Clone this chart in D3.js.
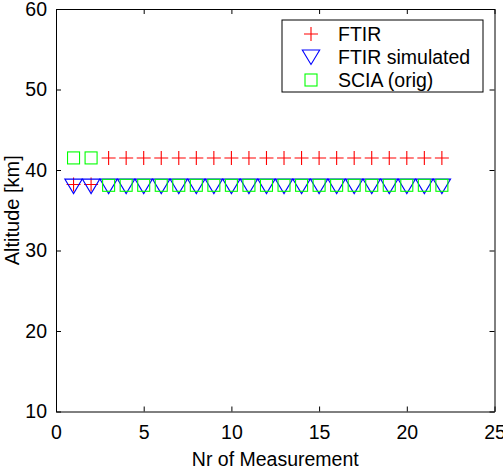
<!DOCTYPE html>
<html>
<head>
<meta charset="utf-8">
<script src="https://cdn.jsdelivr.net/npm/d3@7"></script>
<style>
  body { margin: 0; background: #fff; }
  svg text { font-family: "Liberation Sans", Arial, Helvetica, sans-serif; }
</style>
</head>
<body>
<svg id="chart" width="503" height="474"></svg>
<script>
// measurement numbers
const measurements = [1, 2, 3, 4, 5, 6, 7, 8, 9, 10, 11, 12, 13, 14, 15, 16, 17, 18, 19, 20, 21, 22];

// altitude values [km]
const ftir = [38.2, 38.2, 41.5, 41.5, 41.5, 41.5, 41.5, 41.5, 41.5, 41.5, 41.5,
  41.5, 41.5, 41.5, 41.5, 41.5, 41.5, 41.5, 41.5, 41.5, 41.5, 41.5];
const ftirSimulated = [38.0, 38.0, 38.0, 38.0, 38.0, 38.0, 38.0, 38.0, 38.0, 38.0, 38.0,
  38.0, 38.0, 38.0, 38.0, 38.0, 38.0, 38.0, 38.0, 38.0, 38.0, 38.0];
const sciaOrig = [41.5, 41.5, 38.1, 38.1, 38.1, 38.1, 38.1, 38.1, 38.1, 38.1, 38.1,
  38.1, 38.1, 38.1, 38.1, 38.1, 38.1, 38.1, 38.1, 38.1, 38.1, 38.1];

const xTicks = [0, 5, 10, 15, 20, 25];
const yTicks = [10, 20, 30, 40, 50, 60];

const seriesNames = ['FTIR', 'FTIR simulated', 'SCIA (orig)'];

let svg = d3.select('#chart');

let m_left = 56, m_right = 494.5, m_top = 9, m_bottom = 411.5;
let fontSize = 19.5;

let x = d3.scaleLinear().domain([0, 25]).range([m_left, m_right]);
let y = d3.scaleLinear().domain([10, 60]).range([m_bottom, m_top]);

// marker shapes (matlab style)
function drawMarker(g, kind) {
  if (kind === 'plus') {
    g.append('path')
      .attr('d', 'M-7,0H7M0,-7V7')
      .attr('stroke', '#ff0000')
      .attr('stroke-width', 1.1)
      .attr('fill', 'none');
  } else if (kind === 'tri') {
    g.append('path')
      .attr('d', 'M-8.7,-7L8.7,-7L0,7.5Z')
      .attr('stroke', '#0000ff')
      .attr('stroke-width', 1.1)
      .attr('fill', 'none');
  } else {
    g.append('rect')
      .attr('x', -6).attr('y', -6)
      .attr('width', 12).attr('height', 12)
      .attr('stroke', '#00ff00')
      .attr('stroke-width', 1.1)
      .attr('fill', 'none');
  }
}

let series = [
  { name: seriesNames[0], values: ftir, kind: 'plus' },
  { name: seriesNames[1], values: ftirSimulated, kind: 'tri' },
  { name: seriesNames[2], values: sciaOrig, kind: 'square' }
];

// axes box with inward ticks
function styleAxis(g) {
  g.selectAll('path').attr('stroke', '#000').attr('stroke-width', 1);
  g.selectAll('line').attr('stroke', '#000').attr('stroke-width', 1);
  g.selectAll('text')
    .attr('fill', '#000')
    .style('font-size', fontSize + 'px');
}

svg.append('g')
  .attr('transform', 'translate(0,' + m_bottom + ')')
  .call(d3.axisBottom(x).tickValues(xTicks).tickSizeInner(-5).tickSizeOuter(0).tickPadding(14))
  .call(styleAxis);

svg.append('g')
  .attr('transform', 'translate(0,' + m_top + ')')
  .call(d3.axisTop(x).tickValues(xTicks).tickSizeInner(-5).tickSizeOuter(0).tickFormat(''))
  .call(styleAxis);

svg.append('g')
  .attr('transform', 'translate(' + m_left + ',0)')
  .call(d3.axisLeft(y).tickValues(yTicks).tickSizeInner(-5).tickSizeOuter(0).tickPadding(9))
  .call(styleAxis);

svg.append('g')
  .attr('transform', 'translate(' + m_right + ',0)')
  .call(d3.axisRight(y).tickValues(yTicks).tickSizeInner(-5).tickSizeOuter(0).tickFormat(''))
  .call(styleAxis);

// data markers
series.forEach(function(s) {
  svg.append('g')
    .attr('class', 'series')
    .selectAll('g')
    .data(measurements)
    .enter()
    .append('g')
    .attr('transform', function(d, i) {
      return 'translate(' + x(d) + ',' + y(s.values[i]) + ')';
    })
    .each(function() {
      drawMarker(d3.select(this), s.kind);
    });
});

// legend
let legend = svg.append('g').attr('transform', 'translate(282,20)');
legend.append('rect')
  .attr('width', 201).attr('height', 72)
  .attr('fill', '#fff')
  .attr('stroke', '#000')
  .attr('stroke-width', 1);

series.forEach(function(s, i) {
  let row = legend.append('g').attr('transform', 'translate(29,' + (14 + i * 23) + ')');
  drawMarker(row, s.kind);
  row.append('text')
    .attr('x', 27)
    .attr('y', 0)
    .attr('dy', '0.35em')
    .style('font-size', fontSize + 'px')
    .text(s.name);
});

// axis labels
svg.append('text')
  .attr('x', (m_left + m_right) / 2)
  .attr('y', 466)
  .attr('text-anchor', 'middle')
  .style('font-size', fontSize + 'px')
  .text('Nr of Measurement');

svg.append('text')
  .attr('transform', 'translate(19,' + ((m_top + m_bottom) / 2) + ') rotate(-90)')
  .attr('text-anchor', 'middle')
  .style('font-size', '20px')
  .text('Altitude [km]');
</script>
</body>
</html>
